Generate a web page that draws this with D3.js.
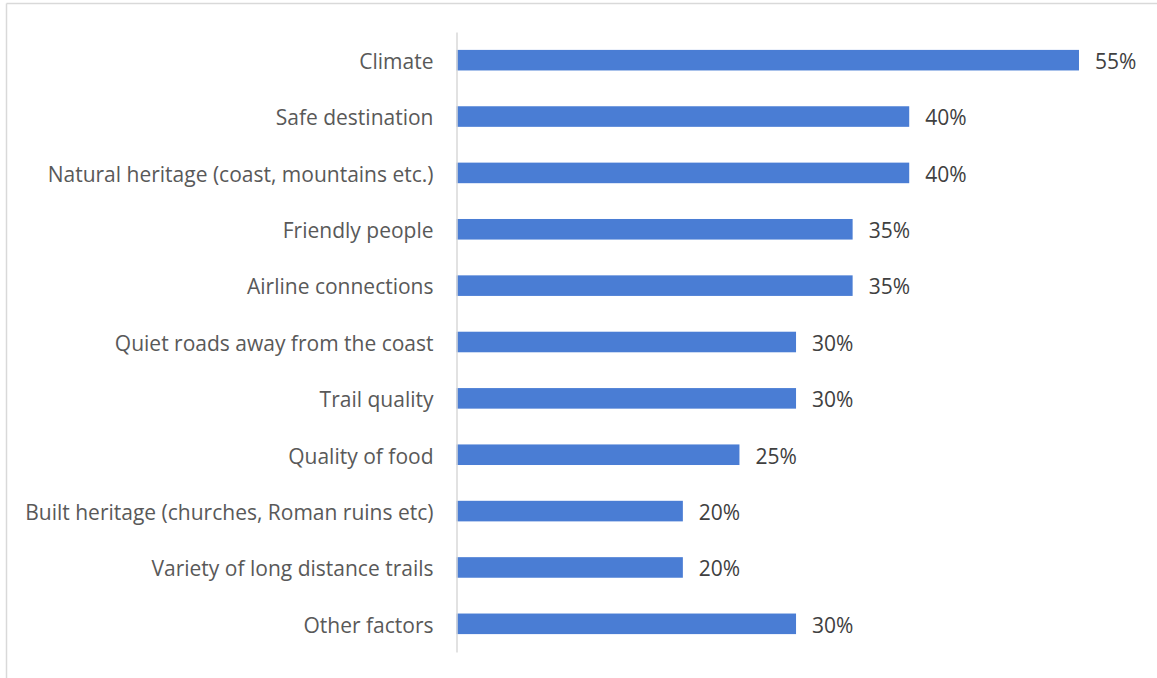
<!DOCTYPE html>
<html>
<head>
<meta charset="utf-8">
<script src="https://cdn.jsdelivr.net/npm/d3@7"></script>
<style>
  html, body { margin: 0; padding: 0; background: #fff; }
  svg { display: block; }
</style>
</head>
<body>
<svg id="chart" width="1157" height="678"></svg>
<script>
// Factors influencing the choice of destination (share of respondents)
const categories = [
  "Climate",
  "Safe destination",
  "Natural heritage (coast, mountains etc.)",
  "Friendly people",
  "Airline connections",
  "Quiet roads away from the coast",
  "Trail quality",
  "Quality of food",
  "Built heritage (churches, Roman ruins etc)",
  "Variety of long distance trails",
  "Other factors"
];
const values = [0.55, 0.40, 0.40, 0.35, 0.35, 0.30, 0.30, 0.25, 0.20, 0.20, 0.30];

const W = 1157, H = 678;
const svg = d3.select("#chart");
const font = "'Open Sans', sans-serif";

// chart frame (only top and left edges visible)
svg.append("line").attr("x1", 6.5).attr("x2", W).attr("y1", 3.5).attr("y2", 3.5)
  .attr("stroke", "#d9d9d9").attr("stroke-width", 1.5);
svg.append("line").attr("x1", 6.5).attr("x2", 6.5).attr("y1", 3.5).attr("y2", H)
  .attr("stroke", "#d9d9d9").attr("stroke-width", 1.5);

const x0 = 456.5;
const x = d3.scaleLinear().domain([0, 0.6]).range([x0, x0 + 0.6 * 1131.8]);
const y = d3.scaleBand().domain(categories).range([32, 652])
  .paddingInner(0.635).paddingOuter(0.3175);

const data = categories.map((c, i) => ({ c, v: values[i] }));

svg.append("g").selectAll("rect").data(data).join("rect")
  .attr("x", x(0))
  .attr("y", d => y(d.c))
  .attr("width", d => x(d.v) - x(0))
  .attr("height", y.bandwidth())
  .attr("fill", "#4a7dd4");

// category axis
const yAxis = d3.axisLeft(y).tickSize(0).tickPadding(23);
const gy = svg.append("g").attr("transform", `translate(${x0},0)`).call(yAxis);
gy.select(".domain").attr("stroke", "#d9d9d9").attr("stroke-width", 1.5);
gy.selectAll("text").attr("font-family", font).attr("font-size", 21)
  .attr("dy", "0.42em")
  .attr("fill", "#595959");

// value labels
svg.append("g").selectAll("text").data(data).join("text")
  .attr("x", d => x(d.v) + 16)
  .attr("y", d => y(d.c) + y.bandwidth() / 2)
  .attr("dy", "0.42em")
  .attr("font-family", font).attr("font-size", 21)
  .attr("fill", "#404040")
  .text(d => d3.format(".0%")(d.v));
</script>
</body>
</html>
